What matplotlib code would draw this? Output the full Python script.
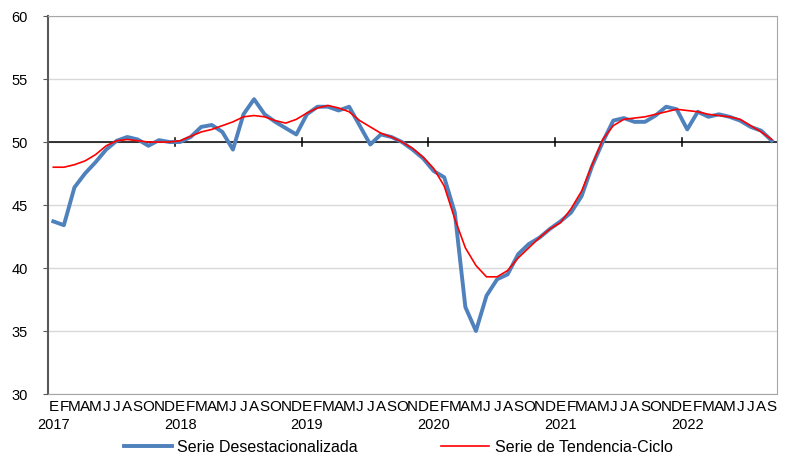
import matplotlib
matplotlib.use("Agg")
import matplotlib.pyplot as plt
import matplotlib.transforms as mtransforms

plt.rcParams['font.family'] = ['Liberation Sans', 'DejaVu Sans']

# monthly values, Jan 2017 - Sep 2022
desestacionalizada = [
    43.7, 43.4, 46.4, 47.5, 48.4, 49.4, 50.1, 50.4, 50.2, 49.7, 50.15, 50.0,   # 2017
    50.0, 50.4, 51.2, 51.35, 50.8, 49.4, 52.2, 53.4, 52.2, 51.6, 51.1, 50.6,  # 2018
    52.2, 52.8, 52.8, 52.5, 52.8, 51.3, 49.8, 50.6, 50.4, 50.0, 49.4, 48.7,   # 2019
    47.7, 47.2, 44.4, 36.9, 35.0, 37.8, 39.1, 39.5, 41.1, 41.9, 42.4, 43.1,   # 2020
    43.7, 44.4, 45.7, 48.1, 50.0, 51.7, 51.9, 51.6, 51.6, 52.1, 52.8, 52.6,   # 2021
    51.0, 52.4, 52.0, 52.2, 52.0, 51.7, 51.2, 50.9, 50.1,                     # 2022
]
tendencia_ciclo = [
    48.0, 48.0, 48.2, 48.5, 49.0, 49.7, 50.1, 50.2, 50.1, 50.0, 50.0, 50.0,
    50.1, 50.45, 50.8, 51.0, 51.3, 51.6, 52.0, 52.1, 52.0, 51.7, 51.5, 51.8,
    52.3, 52.7, 52.9, 52.7, 52.4, 51.7, 51.2, 50.7, 50.4, 50.0, 49.5, 48.8,
    47.9, 46.5, 43.9, 41.6, 40.2, 39.3, 39.3, 39.8, 40.8, 41.6, 42.4, 43.1,
    43.6, 44.7, 46.1, 48.2, 50.2, 51.3, 51.8, 51.9, 52.0, 52.2, 52.4, 52.6,
    52.5, 52.4, 52.2, 52.1, 52.0, 51.8, 51.3, 50.8, 50.2,
]
meses = ["E", "F", "M", "A", "M", "J", "J", "A", "S", "O", "N", "D"]
anios = ["2017", "2018", "2019", "2020", "2021", "2022"]

n = len(desestacionalizada)
x = list(range(n))
etiquetas = [meses[i % 12] for i in x]

fig = plt.figure(figsize=(7.9, 4.59), dpi=100)
ax = fig.add_axes([0.0608, 0.1416, 0.9228, 0.8235])

ax.set_xlim(-0.5, n - 0.5)
ax.set_ylim(30, 60)
ax.set_yticks(range(30, 61, 5))
ax.grid(axis='y', color='#d9d9d9', linewidth=1)
ax.set_axisbelow(True)

# reference line at 50 with year separators
ax.axhline(50, color='black', linewidth=1.1, zorder=2)
for k in range(1, len(anios)):
    ax.plot([12 * k - 0.5] * 2, [49.7, 50.3], color='black', linewidth=1.1, zorder=2)

ax.plot(x, desestacionalizada, color='#4f81bd', linewidth=2.8, zorder=3,
        label='Serie Desestacionalizada')
ax.plot(x, tendencia_ciclo, color='#ff0000', linewidth=1.2, zorder=4,
        label='Serie de Tendencia-Ciclo')

ax.set_xticks(x)
ax.set_xticklabels(etiquetas, fontsize=11)
ax.tick_params(axis='x', length=0, pad=4.5)
ax.tick_params(axis='y', labelsize=10.5, length=3.6, direction='out', color='#595959', pad=11)

for s in ['top', 'right', 'bottom']:
    ax.spines[s].set_color('#a6a6a6')
ax.spines['left'].set_color('#595959')
ax.spines['left'].set_linewidth(1.5)

trans = mtransforms.blended_transform_factory(ax.transData, ax.transAxes)
for k, a in enumerate(anios):
    ax.text(12 * k, -0.063, a, transform=trans, ha='center', va='top', fontsize=10.5)

fig.legend(loc='center', bbox_to_anchor=(0.504, 0.026), ncol=2, frameon=False,
           fontsize=11.5, handlelength=3.0, handletextpad=0.35, columnspacing=5.2)

fig.savefig('out.png', dpi=100)
